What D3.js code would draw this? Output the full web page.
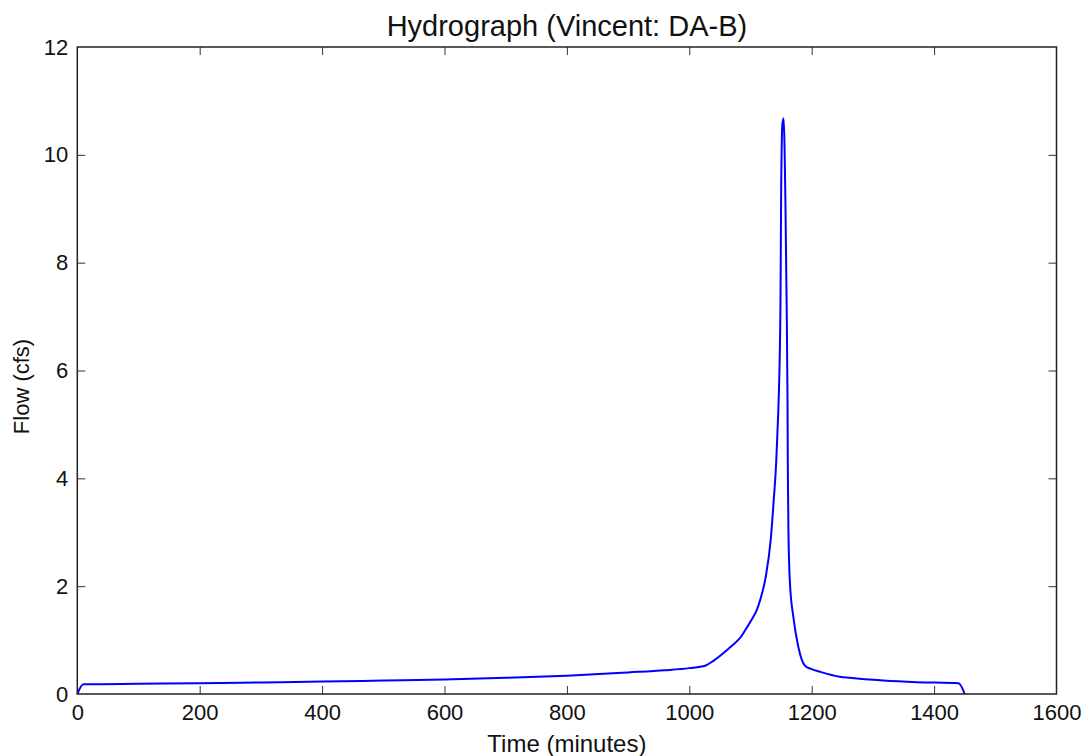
<!DOCTYPE html>
<html>
<head>
<meta charset="utf-8">
<script src="https://cdn.jsdelivr.net/npm/d3@7"></script>
<style>
  html, body { margin: 0; padding: 0; background: #fff; }
  svg { display: block; font-family: "Liberation Sans", Arial, sans-serif; }
</style>
</head>
<body>
<svg id="chart" width="1085" height="756"></svg>
<script>
// ---- data ----
const titleText = "Hydrograph (Vincent: DA-B)";
const xLabel = "Time (minutes)";
const yLabel = "Flow (cfs)";
const xTicks = [0, 200, 400, 600, 800, 1000, 1200, 1400, 1600];
const yTicks = [0, 2, 4, 6, 8, 10, 12];
const timeMin = [0, 10, 100, 200, 300, 400, 500, 600, 700, 800, 900, 960, 1000, 1026,
  1040, 1056, 1070, 1083, 1095, 1102, 1110, 1116, 1125, 1133, 1138, 1142, 1144, 1146,
  1149, 1150, 1152, 1154, 1157, 1159, 1160.5, 1161, 1162, 1164.5, 1170, 1178, 1189,
  1200, 1214, 1246, 1262, 1317, 1372, 1440, 1450];
const flowCfs = [0, 0.18, 0.19, 0.20, 0.215, 0.23, 0.25, 0.27, 0.30, 0.34, 0.40, 0.44, 0.48, 0.525,
  0.62, 0.76, 0.90, 1.04, 1.25, 1.38, 1.55, 1.75, 2.18, 2.86, 3.6, 4.3, 4.85, 5.45,
  7.27, 9.17, 10.55, 10.68, 9.17, 7.27, 5.45, 4.2, 3.0, 2.05, 1.43, 0.88, 0.525,
  0.46, 0.41, 0.32, 0.30, 0.25, 0.22, 0.20, 0];

// ---- layout ----
const svg = d3.select("#chart");
const L = 77.3, R = 1056.5, T = 47, B = 694;
const x = d3.scaleLinear().domain([0, 1600]).range([L, R]);
const y = d3.scaleLinear().domain([0, 12]).range([B, T]);
const tickLen = 8;
const fontTick = 22;

// line
const pts = timeMin.map((t, i) => [t, flowCfs[i]]);
const line = d3.line().x(d => x(d[0])).y(d => y(d[1])).curve(d3.curveMonotoneX);

svg.append("path")
  .datum(pts)
  .attr("d", line)
  .attr("fill", "none")
  .attr("stroke", "#0000ff")
  .attr("stroke-width", 2)
  .attr("stroke-linejoin", "round");

// axes (inward ticks, matplotlib classic style)
function styleAxis(g, showLabels) {
  g.select(".domain").remove();
  g.selectAll(".tick line").attr("stroke", "#333").attr("stroke-width", 1);
  g.selectAll(".tick text")
    .attr("fill", "#111")
    .style("font-size", fontTick + "px")
    .style("display", showLabels ? null : "none");
}

const xBottom = svg.append("g").attr("transform", `translate(0,${B})`)
  .call(d3.axisBottom(x).tickValues(xTicks).tickFormat(d3.format("d")).tickSizeInner(-tickLen).tickSizeOuter(0).tickPadding(tickLen + 1));
styleAxis(xBottom, true);
xBottom.selectAll(".tick text").attr("dy", "0.75em");

const xTop = svg.append("g").attr("transform", `translate(0,${T})`)
  .call(d3.axisTop(x).tickValues(xTicks).tickSizeInner(-tickLen).tickSizeOuter(0));
styleAxis(xTop, false);

const yLeft = svg.append("g").attr("transform", `translate(${L},0)`)
  .call(d3.axisLeft(y).tickValues(yTicks).tickFormat(d3.format("d")).tickSizeInner(-tickLen).tickSizeOuter(0).tickPadding(9));
styleAxis(yLeft, true);

const yRight = svg.append("g").attr("transform", `translate(${R},0)`)
  .call(d3.axisRight(y).tickValues(yTicks).tickSizeInner(-tickLen).tickSizeOuter(0));
styleAxis(yRight, false);

// hide end ticks that coincide with frame
[xBottom, xTop].forEach(g => g.selectAll(".tick").filter(d => d === 0 || d === 1600).select("line").remove());
[yLeft, yRight].forEach(g => g.selectAll(".tick").filter(d => d === 0 || d === 12).select("line").remove());

// frame
svg.append("rect")
  .attr("x", L).attr("y", T).attr("width", R - L).attr("height", B - T)
  .attr("fill", "none").attr("stroke", "#222").attr("stroke-width", 1.5);

// title and labels
svg.append("text")
  .attr("x", (L + R) / 2).attr("y", 36)
  .attr("text-anchor", "middle")
  .style("font-size", "29px").attr("fill", "#111")
  .text(titleText);

svg.append("text")
  .attr("x", (L + R) / 2).attr("y", 752)
  .attr("text-anchor", "middle")
  .style("font-size", "24px").attr("fill", "#111")
  .text(xLabel);

svg.append("text")
  .attr("transform", `translate(29,${(T + B) / 2 + 16}) rotate(-90)`)
  .attr("text-anchor", "middle")
  .style("font-size", "22px").attr("fill", "#111")
  .text(yLabel);
</script>
</body>
</html>
